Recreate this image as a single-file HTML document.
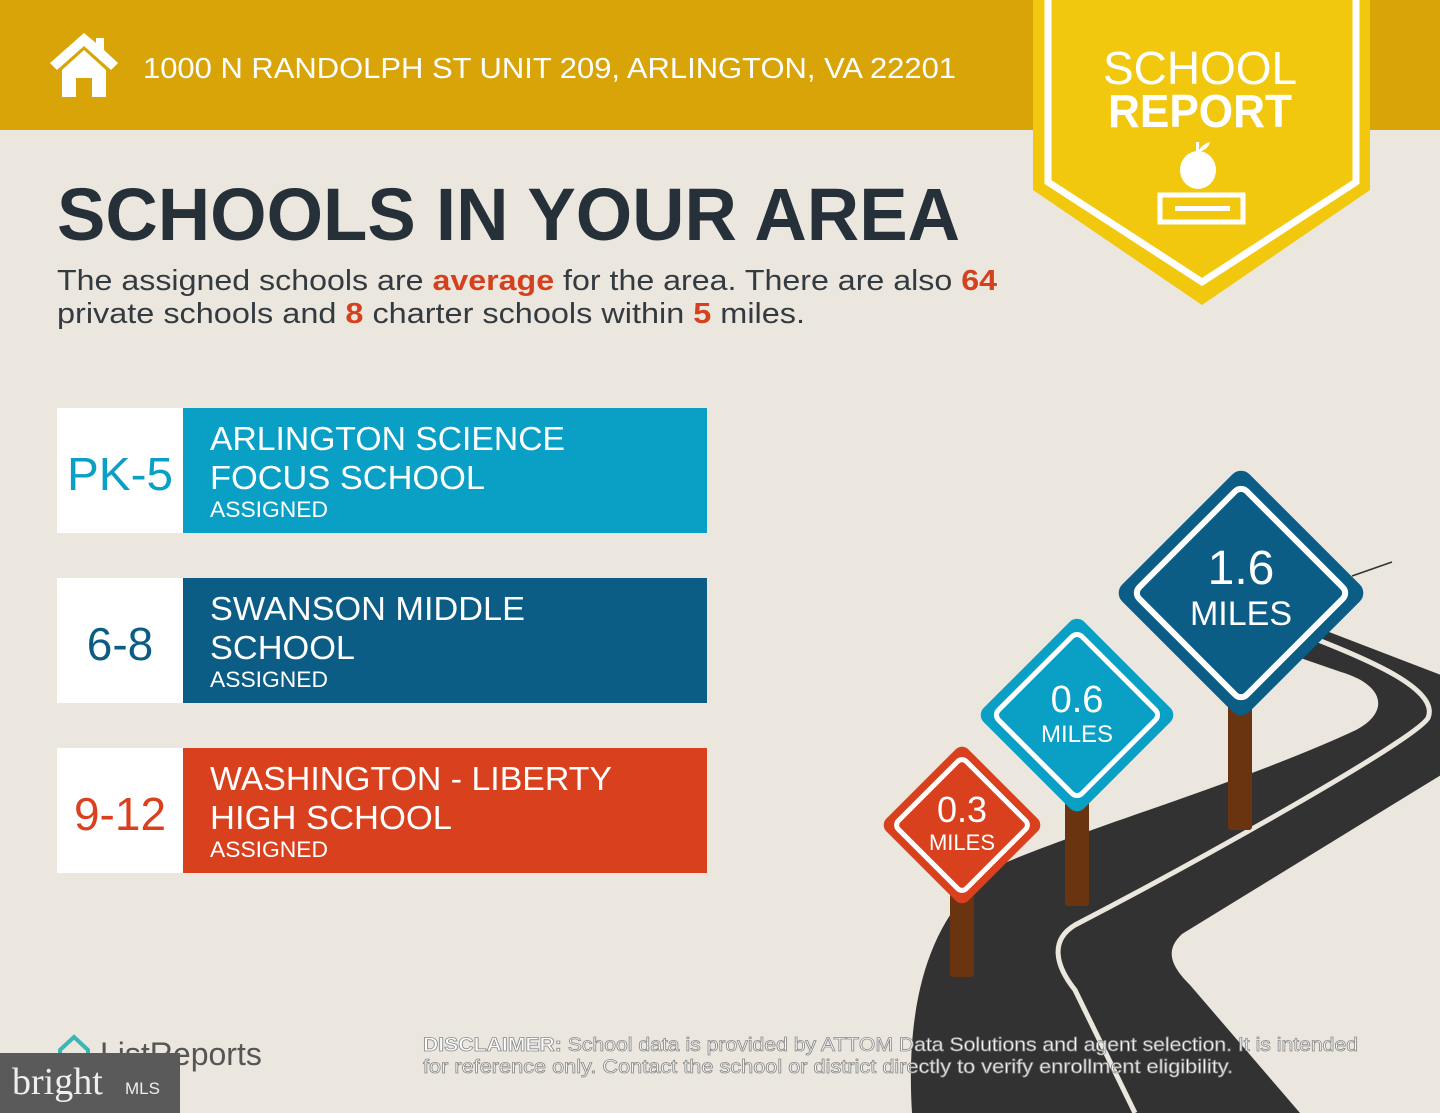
<!DOCTYPE html>
<html><head><meta charset="utf-8"><style>html,body{margin:0;padding:0;background:#ebe7df}svg{display:block}</style></head>
<body>
<svg width="1440" height="1113" viewBox="0 0 1440 1113" xmlns="http://www.w3.org/2000/svg" font-family="Liberation Sans, sans-serif">
<rect width="1440" height="1113" fill="#ebe7df"/>
<rect width="1440" height="130" fill="#d9a408"/>
<g fill="#fff">
<polygon points="84,33 50,63 57,70 84,46 111,70 118,63 104,50 104,38 96,38 96,43"/>
<polygon points="62,70 84,50 106,70 106,97 92,97 92,78 76,78 76,97 62,97"/>
</g>
<text x="143" y="78" font-size="29" fill="#fff" textLength="813" lengthAdjust="spacingAndGlyphs">1000 N RANDOLPH ST UNIT 209, ARLINGTON, VA 22201</text>
<polygon points="1033,0 1370,0 1370,190 1202,305 1033,190" fill="#f2c80f"/>
<polyline points="1048,0 1048,182 1202,282 1356,182 1356,0" fill="none" stroke="#fff" stroke-width="7"/>
<text x="1200" y="84" font-size="46" fill="#fff" text-anchor="middle" textLength="194" lengthAdjust="spacingAndGlyphs">SCHOOL</text>
<text x="1200" y="127" font-size="46" font-weight="bold" fill="#fff" text-anchor="middle" textLength="184" lengthAdjust="spacingAndGlyphs">REPORT</text>
<g fill="#fff">
<ellipse cx="1198" cy="170" rx="18" ry="19"/>
<path d="M1198 152 q4 -8 12 -10 q-2 8 -12 10z"/>
<rect x="1196" y="142" width="3" height="10"/>
</g>
<rect x="1160" y="195" width="83" height="27" fill="none" stroke="#fff" stroke-width="5"/>
<rect x="1175" y="206" width="55" height="5" fill="#fff"/>
<text x="57" y="240" font-size="74" font-weight="bold" fill="#263039" textLength="903" lengthAdjust="spacingAndGlyphs">SCHOOLS IN YOUR AREA</text>
<text x="57" y="290" font-size="29" fill="#333b40" textLength="940" lengthAdjust="spacingAndGlyphs">The assigned schools are <tspan fill="#d3411e" font-weight="bold">average</tspan> for the area. There are also <tspan fill="#d3411e" font-weight="bold">64</tspan></text>
<text x="57" y="323" font-size="29" fill="#333b40" textLength="748" lengthAdjust="spacingAndGlyphs">private schools and <tspan fill="#d3411e" font-weight="bold">8</tspan> charter schools within <tspan fill="#d3411e" font-weight="bold">5</tspan> miles.</text>
<rect x="57" y="408" width="126" height="125" fill="#fff"/><rect x="183" y="408" width="524" height="125" fill="#0aa0c6"/>
<rect x="57" y="578" width="126" height="125" fill="#fff"/><rect x="183" y="578" width="524" height="125" fill="#0b5d86"/>
<rect x="57" y="748" width="126" height="125" fill="#fff"/><rect x="183" y="748" width="524" height="125" fill="#d9411e"/>
<text x="120" y="490" font-size="46" fill="#0aa0c6" text-anchor="middle" textLength="106" lengthAdjust="spacingAndGlyphs">PK-5</text>
<text x="120" y="660" font-size="46" fill="#0b5d86" text-anchor="middle">6-8</text>
<text x="120" y="830" font-size="46" fill="#d9411e" text-anchor="middle">9-12</text>
<g fill="#fff">
<text x="210" y="450" font-size="33" textLength="355" lengthAdjust="spacingAndGlyphs">ARLINGTON SCIENCE</text>
<text x="210" y="489" font-size="33" textLength="275" lengthAdjust="spacingAndGlyphs">FOCUS SCHOOL</text>
<text x="210" y="517" font-size="22" textLength="118" lengthAdjust="spacingAndGlyphs">ASSIGNED</text>
<text x="210" y="620" font-size="33" textLength="315" lengthAdjust="spacingAndGlyphs">SWANSON MIDDLE</text>
<text x="210" y="659" font-size="33" textLength="145" lengthAdjust="spacingAndGlyphs">SCHOOL</text>
<text x="210" y="687" font-size="22" textLength="118" lengthAdjust="spacingAndGlyphs">ASSIGNED</text>
<text x="210" y="790" font-size="33" textLength="402" lengthAdjust="spacingAndGlyphs">WASHINGTON - LIBERTY</text>
<text x="210" y="829" font-size="33" textLength="242" lengthAdjust="spacingAndGlyphs">HIGH SCHOOL</text>
<text x="210" y="857" font-size="22" textLength="118" lengthAdjust="spacingAndGlyphs">ASSIGNED</text>
</g>
<path d="M912 1113 C905 1000 930 910 1000 865 C1080 830 1250 780 1356 730 C1390 712 1385 685 1341 672 L1286 653 L1316 627 L1441 675 L1441 775 L1182 934 C1165 950 1170 965 1190 985 L1300 1113 Z" fill="#323232"/>
<path d="M1308 636 C1370 660 1440 690 1428 718 C1415 740 1200 860 1075 925 C1050 940 1055 965 1075 990 L1135 1113" fill="none" stroke="#ebe7df" stroke-width="5"/>
<line x1="1352" y1="576" x2="1392" y2="562" stroke="#333" stroke-width="1.5"/>
<rect x="1228" y="690" width="24" height="140" rx="3" fill="#6b3410"/>
<rect x="1065" y="795" width="24" height="111" rx="3" fill="#6b3410"/>
<rect x="950" y="885" width="24" height="92" rx="3" fill="#6b3410"/>
<g transform="translate(1241,593) rotate(45)">
<rect x="-90" y="-90" width="180" height="180" rx="12" fill="#0b5d86"/>
<rect x="-76" y="-76" width="152" height="152" rx="8" fill="none" stroke="#fff" stroke-width="6"/>
</g>
<text x="1241" y="584" font-size="48" fill="#fff" text-anchor="middle">1.6</text>
<text x="1241" y="625" font-size="34" fill="#fff" text-anchor="middle">MILES</text>
<g transform="translate(1077,715) rotate(45)">
<rect x="-71" y="-71" width="142" height="142" rx="10" fill="#0aa0c6"/>
<rect x="-59" y="-59" width="118" height="118" rx="7" fill="none" stroke="#fff" stroke-width="5"/>
</g>
<text x="1077" y="712" font-size="38" fill="#fff" text-anchor="middle">0.6</text>
<text x="1077" y="742" font-size="24" fill="#fff" text-anchor="middle">MILES</text>
<g transform="translate(962,825) rotate(45)">
<rect x="-58" y="-58" width="116" height="116" rx="9" fill="#d9411e"/>
<rect x="-48" y="-48" width="96" height="96" rx="6" fill="none" stroke="#fff" stroke-width="5"/>
</g>
<text x="962" y="822" font-size="36" fill="#fff" text-anchor="middle">0.3</text>
<text x="962" y="850" font-size="22" fill="#fff" text-anchor="middle">MILES</text>
<path d="M60 1050 L74 1037 L88 1050 L88 1062 L60 1062 Z" fill="none" stroke="#3bb6b0" stroke-width="4"/>
<text x="100" y="1065" font-size="32" fill="#555">ListReports</text>
<rect x="0" y="1053" width="180" height="60" fill="#5a5a5a"/>
<text x="12" y="1094" font-size="38" fill="#eee" font-family="Liberation Serif, serif">bright</text>
<text x="125" y="1094" font-size="17" fill="#eee">MLS</text>
<g font-size="19" fill="#fff" stroke="#8a8a8a" stroke-width="0.8">
<text x="423" y="1051" textLength="935" lengthAdjust="spacingAndGlyphs"><tspan font-weight="bold">DISCLAIMER:</tspan> School data is provided by ATTOM Data Solutions and agent selection. It is intended</text>
<text x="423" y="1073" textLength="810" lengthAdjust="spacingAndGlyphs">for reference only. Contact the school or district directly to verify enrollment eligibility.</text>
</g>
</svg>
</body></html>
